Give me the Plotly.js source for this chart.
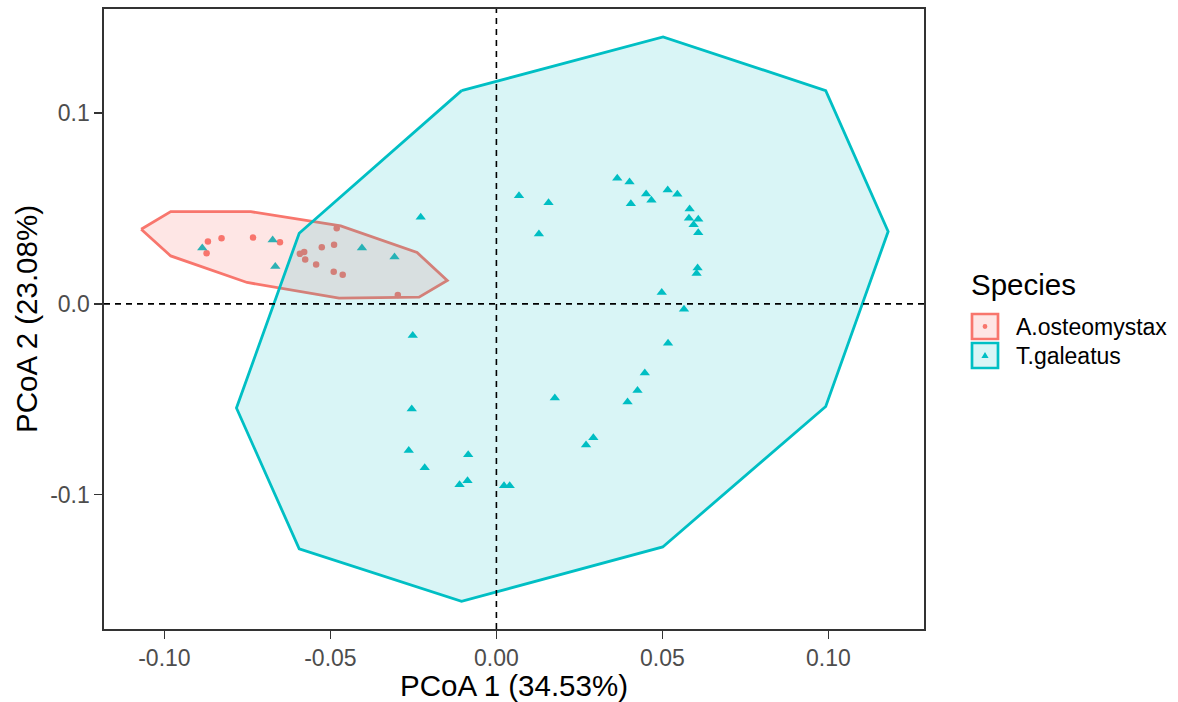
<!DOCTYPE html>
<html>
<head>
<meta charset="utf-8">
<script src="https://cdn.plot.ly/plotly-3.0.1.min.js"></script>
<style>
  html, body { margin: 0; padding: 0; background: #ffffff; }
  #chart { width: 1178px; height: 702px; }
</style>
</head>
<body>
<div id="chart"></div>
<script>
// PCoA scores: A.osteomystax samples
const aostX = [-0.0869, -0.0873, -0.0828, -0.0733, -0.0652, -0.0481, -0.0592, -0.0579,
               -0.0576, -0.0526, -0.0489, -0.0543, -0.0490, -0.0463, -0.0297];
const aostY = [0.0326, 0.0265, 0.0344, 0.0347, 0.0323, 0.0396, 0.0262, 0.0271,
               0.0232, 0.0297, 0.0309, 0.0206, 0.0168, 0.0153, 0.0046];

// PCoA scores: T.galeatus samples
const tgalX = [-0.0886, -0.0674, -0.0666, -0.0405, -0.0307, -0.0228, 0.0068, 0.0157,
               0.0128, 0.0364, 0.0401, 0.0405, 0.0451, 0.0467, 0.0516, 0.0545,
               0.0582, 0.0580, 0.0608, 0.0594, 0.0608, 0.0606, 0.0603, 0.0498,
               0.0565, -0.0252, 0.0517, 0.0447, 0.0425, 0.0395, 0.0176, -0.0255,
               0.0292, 0.0270, -0.0264, -0.0085, -0.0216, -0.0087, -0.0111, 0.0023, 0.0040];
const tgalY = [0.0292, 0.0335, 0.0195, 0.0292, 0.0245, 0.0454, 0.0567, 0.0530,
               0.0366, 0.0658, 0.0639, 0.0524, 0.0576, 0.0543, 0.0597, 0.0574,
               0.0497, 0.0449, 0.0443, 0.0414, 0.0372, 0.0188, 0.0159, 0.0059,
               -0.0028, -0.0166, -0.0206, -0.0363, -0.0454, -0.0515, -0.0494, -0.0551,
               -0.0702, -0.0740, -0.0768, -0.0791, -0.0859, -0.0927, -0.0948, -0.0953, -0.0953];

// Group outlines (polygon vertices)
const aostHullX = [-0.1070, -0.0981, -0.0740, -0.0469, -0.0239, -0.0148, -0.0233, -0.0474, -0.0751, -0.0981];
const aostHullY = [0.0391, 0.0483, 0.0483, 0.0408, 0.0269, 0.0122, 0.0035, 0.0030, 0.0112, 0.0251];
const tgalHullX = [-0.0105, 0.0502, 0.0992, 0.1180, 0.0992, 0.0501, -0.0105, -0.0594, -0.0783, -0.0594];
const tgalHullY = [0.1117, 0.1399, 0.1117, 0.0379, -0.0538, -0.1274, -0.1559, -0.1284, -0.0546, 0.0370];

// Axis ticks and labels
const xTickVals = [-0.10, -0.05, 0.00, 0.05, 0.10];
const xTickText = ['-0.10', '-0.05', '0.00', '0.05', '0.10'];
const yTickVals = [-0.1, 0.0, 0.1];
const yTickText = ['-0.1', '0.0', '0.1'];
const xTitle = 'PCoA 1 (34.53%)';
const yTitle = 'PCoA 2 (23.08%)';
const legendTitle = 'Species';
const speciesNames = ['A.osteomystax', 'T.galeatus'];

const RED = '#F8766D', TEAL = '#00BFC4';
const RED_FILL = 'rgba(248,118,109,0.18)', TEAL_FILL = 'rgba(0,191,196,0.15)';
const FONT = 'Liberation Sans, Arial, sans-serif';
const TITLE_SIZE = 29.5, TEXT_SIZE = 23;

function closeRing(a) { return a.concat([a[0]]); }

const traces = [
  { type: 'scatter', mode: 'markers', x: aostX, y: aostY, name: speciesNames[0],
    showlegend: false, hoverinfo: 'x+y',
    marker: { symbol: 'circle', size: 6.5, color: RED, line: { width: 0 } } },
  { type: 'scatter', mode: 'markers', x: tgalX, y: tgalY, name: speciesNames[1],
    showlegend: false, hoverinfo: 'x+y',
    marker: { symbol: 'triangle-up', size: 9, color: TEAL, line: { width: 0 } } },
  { type: 'scatter', mode: 'lines', x: closeRing(aostHullX), y: closeRing(aostHullY),
    fill: 'toself', fillcolor: RED_FILL, showlegend: false, hoverinfo: 'skip',
    line: { color: RED, width: 2.8 } },
  { type: 'scatter', mode: 'lines', x: closeRing(tgalHullX), y: closeRing(tgalHullY),
    fill: 'toself', fillcolor: TEAL_FILL, showlegend: false, hoverinfo: 'skip',
    line: { color: TEAL, width: 2.8 } }
];

// Plot panel in pixels, used to place the hand-built legend
const M = { l: 104, r: 254, t: 9, b: 73 };
const W = 1178, H = 702;
const pw = W - M.l - M.r, ph = H - M.t - M.b;
const px = v => (v - M.l) / pw;
const py = v => (H - M.b - v) / ph;

const legendKeys = [
  { color: RED, fill: RED_FILL, top: 314 },
  { color: TEAL, fill: TEAL_FILL, top: 343 }
];

const shapes = [
  { type: 'line', xref: 'x', yref: 'paper', x0: 0, x1: 0, y0: 0, y1: 1,
    line: { color: '#000', width: 1.6, dash: '6px,5px' }, layer: 'above' },
  { type: 'line', xref: 'paper', yref: 'y', x0: 0, x1: 1, y0: 0, y1: 0,
    line: { color: '#000', width: 1.6, dash: '6px,5px' }, layer: 'above' }
];
const annotations = [
  { xref: 'paper', yref: 'paper', x: px(969), y: py(284), xanchor: 'left', yanchor: 'middle',
    text: legendTitle, showarrow: false, font: { family: FONT, size: TITLE_SIZE, color: '#000' } }
];
legendKeys.forEach((k, i) => {
  const l = 972, r = 998, t = k.top, b = k.top + 25, cx = (l + r) / 2, cy = (t + b) / 2;
  shapes.push({ type: 'rect', xref: 'paper', yref: 'paper', x0: px(l), x1: px(r), y0: py(b), y1: py(t),
    fillcolor: k.fill, line: { color: k.color, width: 2.7 }, layer: 'above' });
  if (i === 0) {
    shapes.push({ type: 'circle', xref: 'paper', yref: 'paper',
      x0: px(cx - 2.4), x1: px(cx + 2.4), y0: py(cy + 2.4), y1: py(cy - 2.4),
      fillcolor: k.color, line: { width: 0 }, layer: 'above' });
  } else {
    const p = `M${px(cx - 3.6)},${py(cy + 2.4)} L${px(cx + 3.6)},${py(cy + 2.4)} L${px(cx)},${py(cy - 3.6)} Z`;
    shapes.push({ type: 'path', xref: 'paper', yref: 'paper', path: p,
      fillcolor: k.color, line: { width: 0 }, layer: 'above' });
  }
  annotations.push({ xref: 'paper', yref: 'paper', x: px(1014), y: py(cy), xanchor: 'left', yanchor: 'middle',
    text: speciesNames[i], showarrow: false, font: { family: FONT, size: TEXT_SIZE, color: '#000' } });
});

const axisCommon = {
  showgrid: false, zeroline: false,
  showline: true, mirror: true, linecolor: '#333333', linewidth: 1.6,
  ticks: 'outside', ticklen: 8, tickwidth: 1.6, tickcolor: '#333333',
  tickfont: { family: FONT, size: TEXT_SIZE, color: '#4D4D4D' },
  tickmode: 'array'
};

const layout = {
  width: W, height: H,
  margin: M,
  paper_bgcolor: '#ffffff', plot_bgcolor: '#ffffff',
  showlegend: false,
  xaxis: Object.assign({}, axisCommon, {
    range: [-0.1182, 0.1288], tickvals: xTickVals, ticktext: xTickText,
    title: { text: xTitle, font: { family: FONT, size: TITLE_SIZE, color: '#000' }, standoff: 5 }
  }),
  yaxis: Object.assign({}, axisCommon, {
    range: [-0.1704, 0.1545], tickvals: yTickVals, ticktext: yTickText,
    title: { text: yTitle, font: { family: FONT, size: TITLE_SIZE, color: '#000' }, standoff: 4 }
  }),
  shapes: shapes,
  annotations: annotations
};

Plotly.newPlot('chart', traces, layout, { displayModeBar: false, staticPlot: true });
</script>
</body>
</html>
